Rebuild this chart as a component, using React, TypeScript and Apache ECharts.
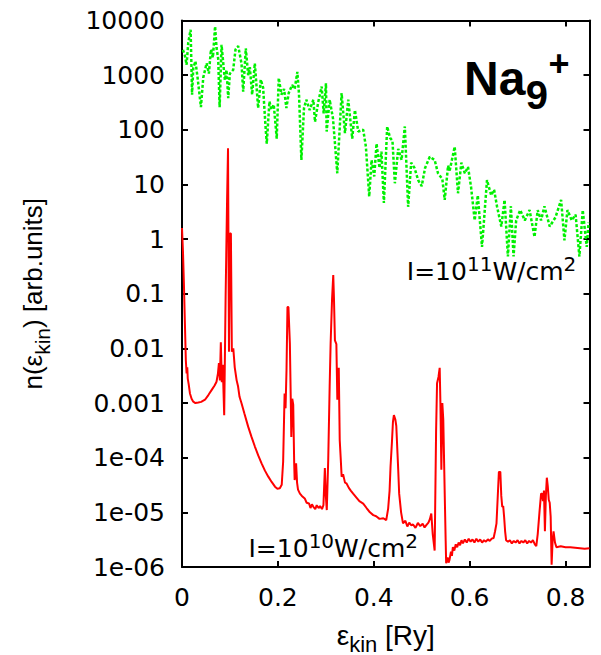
import React, { useEffect, useRef } from 'react';
import * as echarts from 'echarts';

// Tick labels
const xTickLabels = ['0', '0.2', '0.4', '0.6', '0.8'];
const yTickLabels = ['1e-06', '1e-05', '1e-04', '0.001', '0.01', '0.1', '1', '10', '100', '1000', '10000'];

// I = 10^10 W/cm^2 spectrum [eps_kin (Ry), n(eps)]
const redPoints: [number, number][] = [
  [0.000, 1.6], [0.002, 0.6], [0.004, 0.15], [0.006, 0.03], [0.008, 0.006], [0.0096, 0.0035],
  [0.011, 0.0045], [0.012, 0.0028], [0.014, 0.0022], [0.0166, 0.0015], [0.020, 0.0012], [0.0235, 0.00106],
  [0.028, 0.001], [0.034, 0.00102], [0.040, 0.00105], [0.048, 0.00115], [0.055, 0.0014], [0.062, 0.00174],
  [0.068, 0.0021], [0.072, 0.00245], [0.075, 0.0035], [0.077, 0.0054], [0.079, 0.0026], [0.081, 0.013],
  [0.083, 0.0024], [0.085, 0.005], [0.088, 0.0006], [0.091, 0.09], [0.094, 5], [0.096, 46],
  [0.098, 0.0087], [0.100, 1.26], [0.102, 1.26], [0.104, 0.0087], [0.107, 0.01], [0.110, 0.0045],
  [0.114, 0.0026], [0.117, 0.002], [0.120, 0.0013], [0.124, 0.001], [0.130, 0.00065], [0.138, 0.00037],
  [0.145, 0.00024], [0.152, 0.00016], [0.159, 0.00011], [0.166, 7.9e-5], [0.173, 5.8e-5], [0.180, 4.5e-5],
  [0.187, 3.6e-5], [0.194, 2.95e-5], [0.199, 2.7e-5], [0.204, 2.75e-5], [0.208, 3.2e-5], [0.211, 8.5e-5],
  [0.214, 0.0015], [0.216, 0.0008], [0.218, 0.004], [0.220, 0.057], [0.222, 0.057], [0.225, 0.0123],
  [0.227, 0.001], [0.228, 0.00024], [0.230, 0.0012], [0.232, 0.00093], [0.234, 8e-5], [0.235, 3.9e-5],
  [0.238, 7.9e-5], [0.240, 3.5e-5], [0.242, 2.6e-5], [0.246, 2.2e-5], [0.250, 2e-5], [0.256, 1.8e-5],
  [0.260, 1.5e-5], [0.265, 1.45e-5], [0.268, 1.2e-5], [0.271, 1.4e-5], [0.274, 1.26e-5], [0.278, 1.15e-5],
  [0.281, 1.35e-5], [0.285, 1.2e-5], [0.288, 1.3e-5], [0.292, 1.15e-5], [0.295, 1.35e-5], [0.298, 6.5e-5],
  [0.300, 2e-5], [0.302, 1.1e-5], [0.305, 9.1e-5], [0.308, 0.002], [0.310, 0.0123], [0.313, 0.08],
  [0.3155, 0.22], [0.317, 0.08], [0.319, 0.014], [0.322, 0.012], [0.324, 0.00115], [0.327, 0.0044],
  [0.329, 0.00021], [0.331, 0.0001], [0.333, 4.5e-5], [0.336, 5e-5], [0.340, 3.5e-5], [0.343, 3.4e-5],
  [0.348, 2.8e-5], [0.352, 2.5e-5], [0.357, 2.2e-5], [0.363, 1.9e-5], [0.370, 1.6e-5], [0.378, 1.45e-5],
  [0.385, 1.2e-5], [0.392, 1.0e-5], [0.399, 8.9e-6], [0.405, 8.5e-6], [0.412, 7.6e-6], [0.420, 7.8e-6],
  [0.426, 7.2e-6], [0.430, 1.17e-5], [0.433, 2.5e-5], [0.435, 6.9e-5], [0.438, 0.0002], [0.440, 0.00045],
  [0.442, 0.0006], [0.445, 0.0005], [0.447, 0.00038], [0.4495, 0.00012], [0.451, 6e-5], [0.453, 2.2e-5],
  [0.457, 1e-5], [0.461, 6.3e-6], [0.466, 7e-6], [0.470, 5.5e-6], [0.474, 6.5e-6], [0.478, 5.8e-6],
  [0.482, 6e-6], [0.487, 5.2e-6], [0.492, 6.4e-6], [0.497, 5.6e-6], [0.502, 6.2e-6], [0.506, 5.3e-6],
  [0.510, 5.9e-6], [0.514, 6.5e-6], [0.517, 7.5e-6], [0.520, 9.5e-6], [0.523, 4e-6], [0.527, 2e-6],
  [0.530, 0.0003], [0.532, 0.0023], [0.535, 0.003], [0.5375, 0.0044], [0.539, 0.001], [0.541, 6e-5],
  [0.543, 0.001], [0.545, 0.0005], [0.548, 2.2e-5], [0.550, 3e-6], [0.551, 1.17e-6], [0.554, 1.5e-6],
  [0.556, 1.2e-6], [0.558, 1.35e-6], [0.561, 1.9e-6], [0.563, 1.6e-6], [0.565, 2.3e-6], [0.568, 2.0e-6],
  [0.571, 2.6e-6], [0.574, 2.3e-6], [0.577, 2.8e-6], [0.580, 2.5e-6], [0.583, 3.1e-6], [0.586, 2.7e-6],
  [0.590, 3.2e-6], [0.594, 2.8e-6], [0.598, 3.3e-6], [0.602, 2.9e-6], [0.606, 3.2e-6], [0.610, 2.8e-6],
  [0.614, 3.3e-6], [0.618, 2.9e-6], [0.622, 3.2e-6], [0.626, 2.8e-6], [0.630, 3.1e-6], [0.634, 2.9e-6],
  [0.638, 3.2e-6], [0.642, 3.0e-6], [0.646, 3.3e-6], [0.650, 3.4e-6], [0.653, 4.5e-6], [0.656, 6.3e-6],
  [0.658, 1.5e-5], [0.661, 5.5e-5], [0.664, 5.5e-5], [0.666, 2e-5], [0.668, 1.26e-5], [0.670, 1.3e-5],
  [0.672, 8e-6], [0.674, 4.5e-6], [0.676, 3.1e-6], [0.680, 2.9e-6], [0.684, 3.1e-6], [0.688, 2.7e-6],
  [0.692, 3.0e-6], [0.696, 2.8e-6], [0.700, 3.1e-6], [0.704, 2.7e-6], [0.708, 3.0e-6], [0.712, 2.8e-6],
  [0.716, 3.1e-6], [0.720, 2.7e-6], [0.724, 3.0e-6], [0.728, 2.8e-6], [0.732, 3.1e-6], [0.736, 2.6e-6],
  [0.739, 2.4e-6], [0.742, 4e-6], [0.746, 1.1e-5], [0.749, 2.2e-5], [0.751, 2.2e-5], [0.753, 1.6e-5],
  [0.755, 2.5e-5], [0.757, 4.5e-6], [0.759, 2e-5], [0.761, 4.3e-5], [0.763, 3e-5], [0.765, 1.7e-5],
  [0.767, 1.5e-5], [0.769, 8.3e-6], [0.771, 1.1e-6], [0.773, 3e-6], [0.775, 4.5e-6], [0.778, 2.8e-6],
  [0.781, 2.3e-6], [0.790, 2.4e-6], [0.800, 2.3e-6], [0.810, 2.3e-6], [0.820, 2.25e-6], [0.830, 2.2e-6],
  [0.840, 2.15e-6], [0.850, 2.2e-6],
];

// I = 10^11 W/cm^2 spectrum [eps_kin (Ry), n(eps)]
const greenPoints: [number, number][] = [
  [0.002, 2900], [0.006, 2300], [0.0096, 1550], [0.013, 3900], [0.018, 6800], [0.021, 440],
  [0.0235, 1350], [0.028, 1800], [0.0325, 900], [0.0395, 260], [0.0443, 900], [0.0513, 1650],
  [0.0561, 1070], [0.0603, 2950], [0.0645, 2100], [0.069, 7800], [0.072, 3200], [0.0755, 2000],
  [0.0785, 260], [0.0825, 3600], [0.0894, 810], [0.0929, 1250], [0.0964, 380], [0.0998, 1070],
  [0.1068, 1250], [0.1116, 2950], [0.1172, 3400], [0.1241, 1650], [0.1276, 500], [0.1331, 3100],
  [0.138, 1000], [0.1415, 1400], [0.1463, 440], [0.1519, 1650], [0.1588, 250], [0.1643, 830],
  [0.1692, 590], [0.174, 123], [0.1768, 56], [0.1824, 330], [0.1865, 235], [0.1914, 290],
  [0.1976, 69], [0.2018, 890], [0.2074, 440], [0.2129, 560], [0.2177, 250], [0.2226, 470],
  [0.2296, 660], [0.2351, 560], [0.2406, 1150], [0.2441, 440], [0.249, 28], [0.2545, 250],
  [0.2594, 355], [0.2663, 230], [0.274, 355], [0.2774, 140], [0.284, 316], [0.2913, 620],
  [0.2955, 200], [0.3003, 710], [0.3017, 93], [0.308, 355], [0.315, 160], [0.3239, 16],
  [0.3329, 470], [0.3399, 87], [0.3468, 355], [0.3551, 69], [0.3607, 230], [0.3676, 93],
  [0.378, 100], [0.3836, 49], [0.3905, 6], [0.3954, 28], [0.401, 14], [0.4058, 56],
  [0.412, 20], [0.416, 40], [0.4211, 4.6], [0.428, 115], [0.434, 71], [0.439, 63],
  [0.444, 10.5], [0.451, 45], [0.458, 28], [0.4648, 115], [0.4717, 3.9], [0.478, 25],
  [0.485, 20], [0.4926, 12], [0.5, 9.3], [0.507, 20], [0.5168, 32], [0.527, 28],
  [0.534, 16], [0.543, 12.6], [0.548, 5.2], [0.555, 22], [0.5584, 18], [0.5688, 49],
  [0.5757, 6.9], [0.5827, 25], [0.59, 16], [0.5966, 21], [0.603, 8.9], [0.6105, 2.2],
  [0.617, 6.3], [0.6258, 0.72], [0.6362, 12], [0.645, 6.3], [0.651, 8], [0.657, 4],
  [0.666, 1.7], [0.6729, 5.2], [0.6798, 0.48], [0.686, 4], [0.6916, 0.48], [0.697, 2.2],
  [0.7055, 3.4], [0.715, 2.2], [0.725, 3.4], [0.7353, 1.1], [0.742, 3.4], [0.749, 2.2],
  [0.756, 4], [0.767, 1.7], [0.779, 2.5], [0.7908, 5.2], [0.7977, 0.95], [0.804, 3.4],
  [0.813, 2.2], [0.821, 2.8], [0.8289, 0.48], [0.8359, 3.4], [0.8442, 0.72], [0.848, 2],
];

const SANS = '"DejaVu Sans", sans-serif';
const LIB = '"Liberation Sans", Arial, sans-serif';

type Piece = { t: string; size: number; rise: number };

function measure(text: string, font: string): number {
  const ctx = document.createElement('canvas').getContext('2d');
  if (!ctx) return text.length * 14;
  ctx.font = font;
  return ctx.measureText(text).width;
}

function runText(x0: number, baseline: number, pieces: Piece[], family: string, weight = 'normal') {
  const out: any[] = [];
  let x = x0;
  for (const p of pieces) {
    const cy = baseline - p.rise - 0.346 * p.size;
    out.push({
      type: 'text',
      x,
      y: cy,
      silent: true,
      style: {
        text: p.t,
        fontSize: p.size,
        fontFamily: family,
        fontWeight: weight,
        fill: '#000',
        align: 'left',
        verticalAlign: 'middle',
      },
    });
    x += measure(p.t, `${weight} ${p.size}px ${family}`);
  }
  return out;
}

export default function App() {
  const ref = useRef<HTMLDivElement>(null);

  useEffect(() => {
    if (!ref.current) return;
    const chart = echarts.init(ref.current, undefined, { renderer: 'svg' });

    const axisLine = { show: true, onZero: false, lineStyle: { color: '#000', width: 2 } };
    const axisTick = { show: true, inside: true, length: 6, lineStyle: { color: '#000', width: 2 } };

    const xBase = {
      type: 'value',
      min: 0,
      max: 0.85,
      interval: 0.2,
      axisLine,
      axisTick,
      splitLine: { show: false },
    };
    const yBase = {
      type: 'log',
      logBase: 10,
      min: 1e-6,
      max: 1e4,
      interval: 1,
      splitNumber: 10,
      axisLine,
      axisTick,
      splitLine: { show: false },
      minorTick: { show: false },
    };

    const anno1 = runText(406.8, 280, [
      { t: 'I=10', size: 25, rise: 0 },
      { t: '11', size: 20, rise: 8.6 },
      { t: 'W/cm', size: 25, rise: 0 },
      { t: '2', size: 20, rise: 8.6 },
    ], SANS);
    const anno2 = runText(248.5, 556.7, [
      { t: 'I=10', size: 25, rise: 0 },
      { t: '10', size: 20, rise: 8.6 },
      { t: 'W/cm', size: 25, rise: 0 },
      { t: '2', size: 20, rise: 8.6 },
    ], SANS);

    const naW = measure('Na', `bold 48px ${LIB}`);
    const nineW = measure('9', `bold 40px ${LIB}`);
    const titleEls = [
      { type: 'text', x: 464, y: 78.4, silent: true, style: { text: 'Na', fontSize: 48, fontWeight: 'bold', fontFamily: LIB, fill: '#000', align: 'left', verticalAlign: 'middle' } },
      { type: 'text', x: 464 + naW + 0.5, y: 95, silent: true, style: { text: '9', fontSize: 40, fontWeight: 'bold', fontFamily: LIB, fill: '#000', align: 'left', verticalAlign: 'middle' } },
      { type: 'text', x: 464 + naW + nineW + 1, y: 63.4, silent: true, style: { text: '+', fontSize: 36, fontWeight: 'bold', fontFamily: LIB, fill: '#000', align: 'left', verticalAlign: 'middle' } },
    ];

    chart.setOption({
      animation: false,
      backgroundColor: '#fff',
      grid: { left: 182, right: 11.5, top: 20.5, bottom: 88, containLabel: false, outerBoundsMode: 'none' },
      xAxis: [
        {
          ...xBase,
          position: 'bottom',
          axisLabel: {
            show: true,
            margin: 18,
            fontSize: 25,
            fontFamily: SANS,
            color: '#000',
            formatter: (v: number) => {
              const k = Math.round(v / 0.2);
              if (Math.abs(v - k * 0.2) > 1e-6) return '';
              return xTickLabels[k] ?? '';
            },
          },
          name: '{m|ε}{s|kin}{m| [Ry]}',
          nameLocation: 'middle',
          nameGap: 68,
          nameTextStyle: {
            verticalAlign: 'middle',
            rich: {
              m: { fontSize: 28, fontFamily: LIB, color: '#000', lineHeight: 30, verticalAlign: 'middle' },
              s: { fontSize: 22, fontFamily: LIB, color: '#000', lineHeight: 24, verticalAlign: 'middle', padding: [9, 0, -9, 0] },
            },
          },
        },
        { ...xBase, position: 'top', axisLabel: { show: false } },
      ],
      yAxis: [
        {
          ...yBase,
          position: 'left',
          axisLabel: {
            show: true,
            margin: 17,
            fontSize: 25,
            fontFamily: SANS,
            color: '#000',
            formatter: (v: number) => {
              const e = Math.round(Math.log10(v));
              return yTickLabels[e + 6] ?? '';
            },
          },
          name: '{m|n(ε}{s|kin}{m|) [arb.units]}',
          nameLocation: 'middle',
          nameGap: 149,
          nameTextStyle: {
            verticalAlign: 'middle',
            rich: {
              m: { fontSize: 26, fontFamily: LIB, color: '#000', lineHeight: 30, verticalAlign: 'middle' },
              s: { fontSize: 21, fontFamily: LIB, color: '#000', lineHeight: 24, verticalAlign: 'middle', padding: [9, 0, -9, 0] },
            },
          },
        },
        { ...yBase, position: 'right', axisLabel: { show: false } },
      ],
      series: [
        {
          type: 'line',
          name: 'I=1e10',
          xAxisIndex: 0,
          yAxisIndex: 0,
          data: redPoints,
          showSymbol: false,
          symbol: 'none',
          lineStyle: { color: '#ff0000', width: 2 },
          z: 3,
        },
        {
          type: 'line',
          name: 'I=1e11',
          xAxisIndex: 0,
          yAxisIndex: 0,
          data: greenPoints,
          showSymbol: false,
          symbol: 'none',
          lineStyle: { color: '#00f000', width: 2.5, type: [3, 2] },
          z: 3,
        },
      ],
      graphic: [...titleEls, ...anno1, ...anno2],
    });

    return () => chart.dispose();
  }, []);

  return <div ref={ref} style={{ position: 'fixed', left: 0, top: 0, width: 601, height: 655, background: '#fff' }} />;
}
